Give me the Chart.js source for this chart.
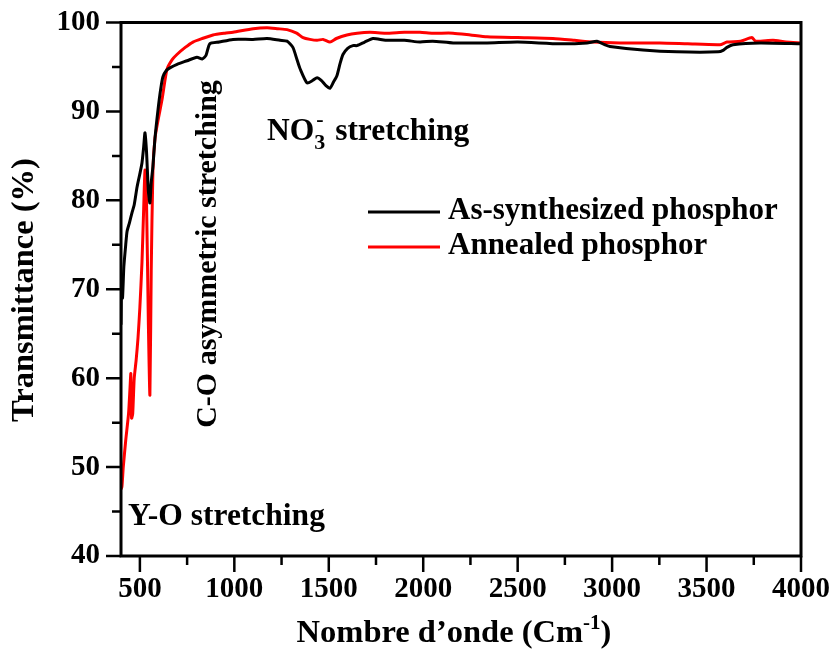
<!DOCTYPE html>
<html>
<head>
<meta charset="utf-8">
<script src="https://cdn.jsdelivr.net/npm/chart.js@4.4.1/dist/chart.umd.min.js"></script>
<style>
  body { margin: 0; background: #fff; }
  canvas { display: block; }
</style>
</head>
<body>
<canvas id="ftir" width="834" height="657"></canvas>
<script>
// Axis ticks
const xMajorTicks = [500, 1000, 1500, 2000, 2500, 3000, 3500, 4000];
const xMinorTicks = [750, 1250, 1750, 2250, 2750, 3250, 3750];
const yMajorTicks = [40, 50, 60, 70, 80, 90, 100];
const yMinorTicks = [45, 55, 65, 75, 85, 95];

// As-synthesized phosphor (black)
const asSynthWave = [400, 403, 408, 415, 425, 432, 445, 458, 470, 485, 500, 511, 520, 527, 535, 545, 553, 560, 569, 580, 596, 610, 622, 640, 659, 697, 750, 802, 830, 850, 870, 920, 993, 1099, 1173, 1242, 1279, 1310, 1332, 1348, 1385, 1416, 1438, 1460, 1485, 1506, 1525, 1543, 1560, 1575, 1600, 1628, 1649, 1690, 1734, 1800, 1900, 1983, 2050, 2158, 2338, 2500, 2724, 2867, 2920, 2960, 2989, 3163, 3343, 3561, 3590, 3608, 3640, 3783, 4000];
const asSynthT = [66, 70.5, 69, 72.5, 75, 76.5, 77.5, 78.6, 79.5, 81.5, 83, 84.2, 86, 87.6, 85.5, 81, 79.7, 82, 83.8, 87, 90.2, 92.5, 93.9, 94.6, 94.9, 95.3, 95.7, 96.1, 95.9, 96.3, 97.6, 97.8, 98.1, 98.1, 98.2, 98.0, 97.9, 97.2, 95.8, 94.8, 93.2, 93.5, 93.8, 93.5, 92.9, 92.6, 93.3, 94, 95.4, 96.4, 97.1, 97.4, 97.4, 97.8, 98.2, 98.0, 98.0, 97.8, 97.9, 97.7, 97.7, 97.8, 97.6, 97.7, 97.9, 97.5, 97.3, 96.9, 96.7, 96.7, 96.9, 97.2, 97.5, 97.7, 97.6];

// Annealed phosphor (red)
const annealedWave = [400, 405, 412, 425, 440, 448, 452, 456, 462, 470, 480, 490, 500, 511, 520, 527, 535, 545, 553, 560, 569, 580, 596, 617, 643, 670, 696, 740, 781, 830, 887, 950, 993, 1100, 1173, 1230, 1279, 1330, 1364, 1400, 1438, 1470, 1506, 1540, 1596, 1650, 1718, 1800, 1900, 1983, 2050, 2158, 2250, 2338, 2500, 2687, 2800, 2899, 3042, 3253, 3400, 3571, 3608, 3680, 3740, 3760, 3852, 3920, 4000];
const annealedT = [47.5, 47.8, 50, 53, 56, 59, 60.5, 55.5, 56, 60, 62, 64.5, 68, 73, 79, 83.4, 80, 66, 58.1, 72, 83.4, 87, 89, 91.3, 94.7, 95.8, 96.4, 97.2, 97.8, 98.2, 98.6, 98.8, 98.9, 99.3, 99.4, 99.3, 99.2, 98.8, 98.3, 98.1, 98.0, 98.1, 97.8, 98.2, 98.6, 98.8, 98.9, 98.8, 98.9, 98.9, 98.8, 98.8, 98.6, 98.4, 98.3, 98.2, 98.0, 97.8, 97.7, 97.7, 97.6, 97.5, 97.8, 97.9, 98.3, 97.9, 98.0, 97.8, 97.7];

const seriesNames = ['As-synthesized phosphor', 'Annealed phosphor'];
const seriesColors = ['#000000', '#ff0000'];

const FONT = '"Liberation Serif", "Times New Roman", serif';

function toPoints(xs, ys) {
    return xs.map((x, i) => ({ x: x, y: ys[i] }));
}

// Frame, outward ticks, legend, annotations and axis titles
const decorPlugin = {
    id: 'decor',
    afterDraw(chart) {
        const ctx = chart.ctx;
        const area = chart.chartArea;
        const xs = chart.scales.x;
        const ys = chart.scales.y;

        ctx.save();
        ctx.strokeStyle = '#000';
        ctx.lineWidth = 3;
        ctx.strokeRect(area.left, area.top, area.right - area.left, area.bottom - area.top);

        ctx.lineWidth = 2.5;
        ctx.beginPath();
        xMajorTicks.forEach(v => {
            const px = xs.getPixelForValue(v);
            ctx.moveTo(px, area.bottom);
            ctx.lineTo(px, area.bottom + 16);
        });
        xMinorTicks.forEach(v => {
            const px = xs.getPixelForValue(v);
            ctx.moveTo(px, area.bottom);
            ctx.lineTo(px, area.bottom + 9);
        });
        yMajorTicks.forEach(v => {
            const py = ys.getPixelForValue(v);
            ctx.moveTo(area.left, py);
            ctx.lineTo(area.left - 15, py);
        });
        yMinorTicks.forEach(v => {
            const py = ys.getPixelForValue(v);
            ctx.moveTo(area.left, py);
            ctx.lineTo(area.left - 9, py);
        });
        ctx.stroke();

        // legend
        ctx.fillStyle = '#000';
        ctx.font = 'bold 31px ' + FONT;
        ctx.textBaseline = 'alphabetic';
        ctx.textAlign = 'left';
        const legendY = [212, 247];
        seriesNames.forEach((name, i) => {
            ctx.strokeStyle = seriesColors[i];
            ctx.lineWidth = 3;
            ctx.beginPath();
            ctx.moveTo(368, legendY[i]);
            ctx.lineTo(440, legendY[i]);
            ctx.stroke();
            ctx.fillText(name, 448, legendY[i] + 7);
        });

        // annotations
        ctx.font = 'bold 31.5px ' + FONT;
        ctx.fillText('Y-O stretching', 128, 525);

        let x = 267;
        ctx.fillText('NO', x, 140);
        x += ctx.measureText('NO').width;
        ctx.font = 'bold 22px ' + FONT;
        ctx.fillText('3', x, 149);
        const subW = ctx.measureText('3').width;
        ctx.fillText('-', x + 2, 126);
        x += subW + 2;
        ctx.font = 'bold 31.5px ' + FONT;
        ctx.fillText(' stretching', x, 140);

        ctx.save();
        ctx.font = 'bold 30px ' + FONT;
        ctx.translate(208, 254);
        ctx.rotate(-Math.PI / 2);
        ctx.textAlign = 'center';
        ctx.textBaseline = 'middle';
        ctx.fillText('C-O asymmetric stretching', 0, 0);
        ctx.restore();

        // y title
        ctx.save();
        ctx.font = 'bold 32.5px ' + FONT;
        ctx.translate(25, 290);
        ctx.rotate(-Math.PI / 2);
        ctx.textAlign = 'center';
        ctx.textBaseline = 'middle';
        ctx.fillText('Transmittance (%)', 0, 0);
        ctx.restore();

        // x title with superscript
        const main = 'Nombre d\u2019onde (Cm';
        const sup = '-1';
        const tail = ')';
        ctx.font = 'bold 32.5px ' + FONT;
        const wMain = ctx.measureText(main).width;
        const wTail = ctx.measureText(tail).width;
        ctx.font = 'bold 21px ' + FONT;
        const wSup = ctx.measureText(sup).width;
        let tx = 454 - (wMain + wSup + wTail) / 2;
        ctx.font = 'bold 32.5px ' + FONT;
        ctx.fillText(main, tx, 642);
        tx += wMain;
        ctx.font = 'bold 21px ' + FONT;
        ctx.fillText(sup, tx, 629);
        tx += wSup;
        ctx.font = 'bold 32.5px ' + FONT;
        ctx.fillText(tail, tx, 642);

        ctx.restore();
    }
};

new Chart(document.getElementById('ftir'), {
    type: 'line',
    data: {
        datasets: [
            {
                label: seriesNames[0],
                data: toPoints(asSynthWave, asSynthT),
                borderColor: seriesColors[0],
                borderWidth: 3,
                pointRadius: 0,
                tension: 0.2,
                fill: false
            },
            {
                label: seriesNames[1],
                data: toPoints(annealedWave, annealedT),
                borderColor: seriesColors[1],
                borderWidth: 3,
                pointRadius: 0,
                tension: 0.2,
                fill: false
            }
        ]
    },
    options: {
        responsive: false,
        animation: false,
        devicePixelRatio: 1,
        layout: { padding: { left: 0, top: 22.5, right: 33, bottom: 0 } },
        plugins: {
            legend: { display: false },
            tooltip: { enabled: false }
        },
        scales: {
            x: {
                type: 'linear',
                min: 400,
                max: 4000,
                afterBuildTicks: scale => {
                    scale.ticks = xMajorTicks.map(v => ({ value: v }));
                },
                afterFit: scale => {
                    scale.height = 101;
                    scale.paddingLeft = 0;
                    scale.paddingRight = 0;
                },
                grid: { display: false, drawTicks: false },
                border: { display: false },
                ticks: {
                    padding: 16,
                    color: '#000',
                    maxRotation: 0,
                    autoSkip: false,
                    callback: v => String(v),
                    font: { family: FONT, size: 29, weight: 'bold' }
                }
            },
            y: {
                min: 40,
                max: 100,
                afterBuildTicks: scale => {
                    scale.ticks = yMajorTicks.map(v => ({ value: v }));
                },
                afterFit: scale => {
                    scale.width = 121;
                    scale.paddingTop = 0;
                    scale.paddingBottom = 0;
                },
                grid: { display: false, drawTicks: false },
                border: { display: false },
                ticks: {
                    padding: 21,
                    color: '#000',
                    callback: v => String(v),
                    font: { family: FONT, size: 29, weight: 'bold' }
                }
            }
        }
    },
    plugins: [decorPlugin]
});
</script>
</body>
</html>
